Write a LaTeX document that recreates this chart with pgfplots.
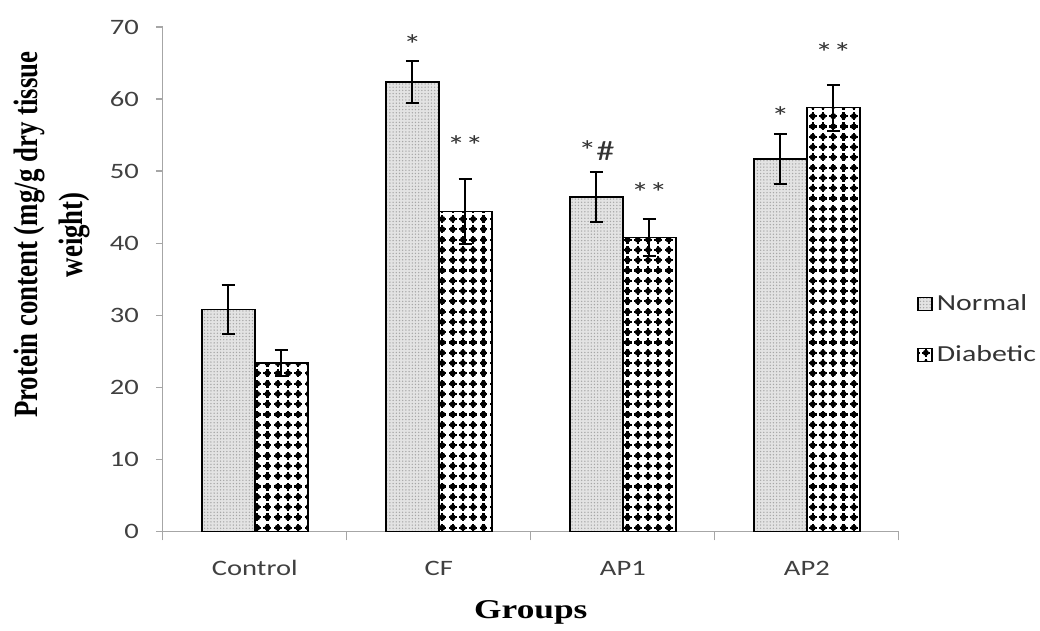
\documentclass[border=0pt]{standalone}
\usepackage{pgfplots}
\pgfplotsset{compat=1.18}
\usepackage{fontspec}
\setmainfont{Liberation Serif}
\newfontfamily\calfont[FakeStretch=1.3]{Carlito}
\newfontfamily\labfont[FakeStretch=1.3]{Liberation Serif}
\newfontfamily\ylabfont[FakeStretch=0.79]{Liberation Serif}
\usetikzlibrary{patterns}

\pgfdeclarepatternformonly{bigdots}{\pgfpoint{-2.2pt}{-2.2pt}}{\pgfpoint{2.2pt}{2.2pt}}{\pgfpoint{5.15pt}{5.15pt}}{%
  \pgfpathcircle{\pgfpointorigin}{1.5pt}%
  \pgfusepath{fill}%
  \pgfpathrectangle{\pgfpoint{-2.0pt}{-0.55pt}}{\pgfpoint{4.0pt}{1.1pt}}%
  \pgfusepath{fill}%
  \pgfpathrectangle{\pgfpoint{-0.55pt}{-2.0pt}}{\pgfpoint{1.1pt}{4.0pt}}%
  \pgfusepath{fill}%
}
\pgfdeclarepatternformonly{finedots}{\pgfpoint{-0.4pt}{-0.4pt}}{\pgfpoint{0.4pt}{0.4pt}}{\pgfpoint{1.6pt}{1.6pt}}{%
  \pgfpathcircle{\pgfpointorigin}{0.38pt}%
  \pgfusepath{fill}%
}

\begin{document}
\begin{tikzpicture}
\begin{axis}[
  at={(0,0)}, anchor=south west,
  scale only axis, width=368.5pt, height=252.5pt,
  ybar, bar width=26.5pt,
  ymin=0, ymax=70, ytick={0,10,...,70},
  xmin=-0.5, xmax=3.5,
  xtick={0,1,2,3}, xticklabels={Control,CF,AP1,AP2},
  minor xtick={-0.5,0.5,1.5,2.5,3.5},
  axis x line*=bottom, axis y line*=left,
  axis line style={-, draw=gray!70, line width=0.6pt},
  tick align=outside,
  major tick length=3.5pt, minor tick length=4.5pt,
  major x tick style={draw=none},
  minor x tick style={draw=gray!70, line width=0.6pt},
  y tick style={draw=gray!70, line width=0.6pt},
  /pgf/number format/assume math mode=true,
  ticklabel style={font=\calfont\fontsize{11}{13}\selectfont, text=black!75},
  yticklabel style={xshift=-5pt},
  xticklabel style={anchor=base, yshift=-18.5pt},
  ylabel={Protein content (mg/g dry tissue\\weight)},
  ylabel style={font=\ylabfont\bfseries\fontsize{17}{22.5}\selectfont, align=center,
    at={(axis description cs:-0.150,0.588)}, anchor=center},
  xlabel={Groups},
  xlabel style={font=\labfont\bfseries\fontsize{13.6}{16}\selectfont,
    at={(axis description cs:0.5,-0.172)}, anchor=base},
  legend image code/.code={\draw[#1] (0pt,-3.25pt) rectangle (7pt,3.25pt);},
  legend style={at={(axis description cs:1.0244,0.40)}, anchor=west, draw=none, fill=none,
    inner sep=0pt, font=\calfont\fontsize{11.5}{13}\selectfont, text=black!80,
    row sep=12pt, cells={anchor=west}},
  legend cell align=left,
  error bars/error bar style={line width=1pt, black},
  error bars/error mark options={rotate=90, mark size=3.3pt, line width=1pt, black},
  nodes near coords style={font=\calfont\fontsize{14}{16}\selectfont, text=black!80, anchor=center},
]
\addplot[bar shift=-13.25pt, draw=black, line width=0.8pt, fill=gray!22,
  postaction={pattern=finedots, pattern color=gray!70},
  error bars/.cd, y dir=both, y explicit]
  coordinates {(0,30.8) +- (0,3.4) (1,62.4) +- (0,2.9) (2,46.4) +- (0,3.5) (3,51.7) +- (0,3.5)};
\addplot[bar shift=13.25pt, draw=black, line width=0.8pt, fill=white,
  postaction={pattern=bigdots, pattern color=black},
  error bars/.cd, y dir=both, y explicit]
  coordinates {(0,23.4) +- (0,1.8) (1,44.4) +- (0,4.5) (2,40.8) +- (0,2.6) (3,58.8) +- (0,3.2)};
\legend{Normal,Diabetic}
% significance marks
\addplot[forget plot, bar shift=-13.25pt, draw=none, fill=none,
  nodes near coords, point meta=explicit symbolic,
  nodes near coords style={yshift=-2.5pt}]
  coordinates {(1,68.3)[*] (2,53.6)[*\#] (3,58.2)[*]};
\addplot[forget plot, bar shift=13.25pt, draw=none, fill=none,
  nodes near coords, point meta=explicit symbolic,
  nodes near coords style={yshift=-2.5pt}]
  coordinates {(1,54.2)[**] (2,47.7)[**] (3,67.1)[**]};
\end{axis}
\path (current axis.south west) ++(-81.5pt,-46.5pt) rectangle ++(520pt,312.5pt);
\end{tikzpicture}
\end{document}
